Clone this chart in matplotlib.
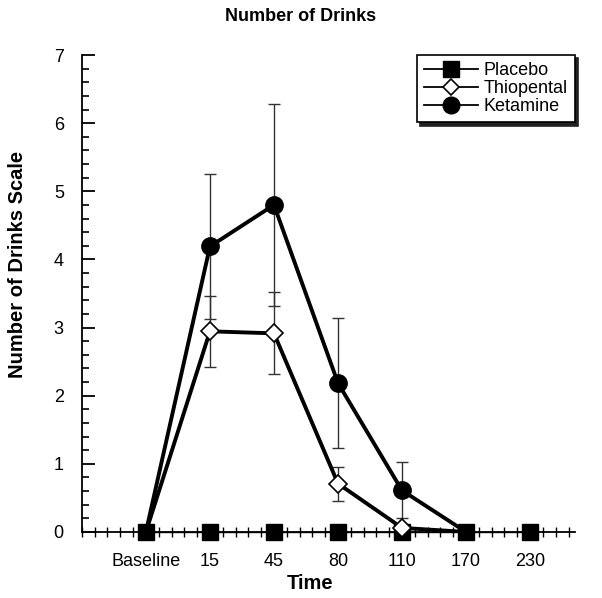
import matplotlib
matplotlib.use("Agg")
import matplotlib.pyplot as plt
from matplotlib.ticker import MultipleLocator
from matplotlib.lines import Line2D
import numpy as np

plt.rcParams['font.family'] = ['Liberation Sans', 'DejaVu Sans']

categories = ["Baseline", "15", "45", "80", "110", "170", "230"]
placebo = [0, 0, 0, 0, 0, 0, 0]
thiopental = [0, 2.945, 2.915, 0.71, 0.06, 0]
thiopental_err = [0, 0.52, 0.60, 0.25, 0, 0]
ketamine = [0, 4.19, 4.80, 2.185, 0.61, 0]
ketamine_err = [0, 1.07, 1.48, 0.95, 0.41, 0]

fig = plt.figure(figsize=(6.02, 5.98), dpi=100)
ax = fig.add_axes([0.136, 0.1104, 0.819, 0.7976])

xp = np.arange(len(placebo))
xt = np.arange(len(thiopental))
xk = np.arange(len(ketamine))

ebkw = dict(ecolor='#333333', elinewidth=1.0, capsize=4, capthick=1.0, fmt='none', zorder=2)
ax.errorbar(xk, ketamine, yerr=ketamine_err, **ebkw)
ax.errorbar(xt, thiopental, yerr=thiopental_err, **ebkw)

ax.plot(xk, ketamine, color='black', lw=2.8, zorder=3)
ax.plot(xt, thiopental, color='black', lw=2.8, zorder=3)
ax.plot(xp, placebo, color='black', lw=1.0, marker='s', markersize=12,
        markerfacecolor='black', zorder=5, clip_on=False)
ax.plot(xt[1:5], thiopental[1:5], ls='none', marker='D', markersize=9.5,
        markerfacecolor='white', markeredgecolor='black', markeredgewidth=1.2,
        zorder=6, clip_on=False)
ax.plot(xk[1:5], ketamine[1:5], ls='none', marker='o', markersize=12.5,
        markerfacecolor='black', markeredgecolor='black', zorder=6, clip_on=False)

h1 = Line2D([], [], color='black', lw=1.3, marker='s', markersize=12, markerfacecolor='black')
h2 = Line2D([], [], color='black', lw=1.3, marker='D', markersize=8, markerfacecolor='white',
            markeredgecolor='black', markeredgewidth=1.2)
h3 = Line2D([], [], color='black', lw=1.3, marker='o', markersize=12, markerfacecolor='black')
leg = ax.legend([h1, h2, h3], ["Placebo", "Thiopental", "Ketamine"],
                loc='upper right', bbox_to_anchor=(1.0, 1.0), frameon=True, fancybox=False,
                shadow={'ox': 2.5, 'oy': -2.5, 'color': '#222222', 'alpha': 1.0},
                fontsize=13, handlelength=3.0, handletextpad=0.3,
                labelspacing=0.05, borderpad=0.4, borderaxespad=0.0)
leg.get_frame().set_edgecolor('black')
leg.get_frame().set_linewidth(1.2)

ax.set_xlim(-1, 6.7)
ax.set_ylim(0, 7)
ax.set_xticks(range(len(categories)))
ax.set_xticklabels(categories)
ax.xaxis.set_minor_locator(MultipleLocator(0.2))
ax.yaxis.set_major_locator(MultipleLocator(1))
ax.yaxis.set_minor_locator(MultipleLocator(0.2))

for s in ['top', 'right']:
    ax.spines[s].set_visible(False)
for s in ['left', 'bottom']:
    ax.spines[s].set_linewidth(1.3)

ax.tick_params(axis='y', which='major', direction='in', length=9, width=1.3, labelsize=13, pad=13)
ax.tick_params(axis='y', which='minor', direction='in', length=5, width=1.2)
ax.tick_params(axis='x', which='major', direction='inout', length=8, width=1.2, labelsize=13, pad=11)
ax.tick_params(axis='x', which='minor', direction='inout', length=7, width=1.0)

ax.set_xlabel("Time", fontsize=14.5, fontweight='bold', labelpad=3)
ax.set_ylabel("Number of Drinks Scale", fontsize=14.5, fontweight='bold', labelpad=19)
ax.xaxis.label.set_x(0.462)
ax.yaxis.label.set_y(0.56)
fig.text(0.5, 0.972, "Number of Drinks", fontsize=13, fontweight='bold', ha='center', va='center')

fig.savefig("out.png", dpi=100)
